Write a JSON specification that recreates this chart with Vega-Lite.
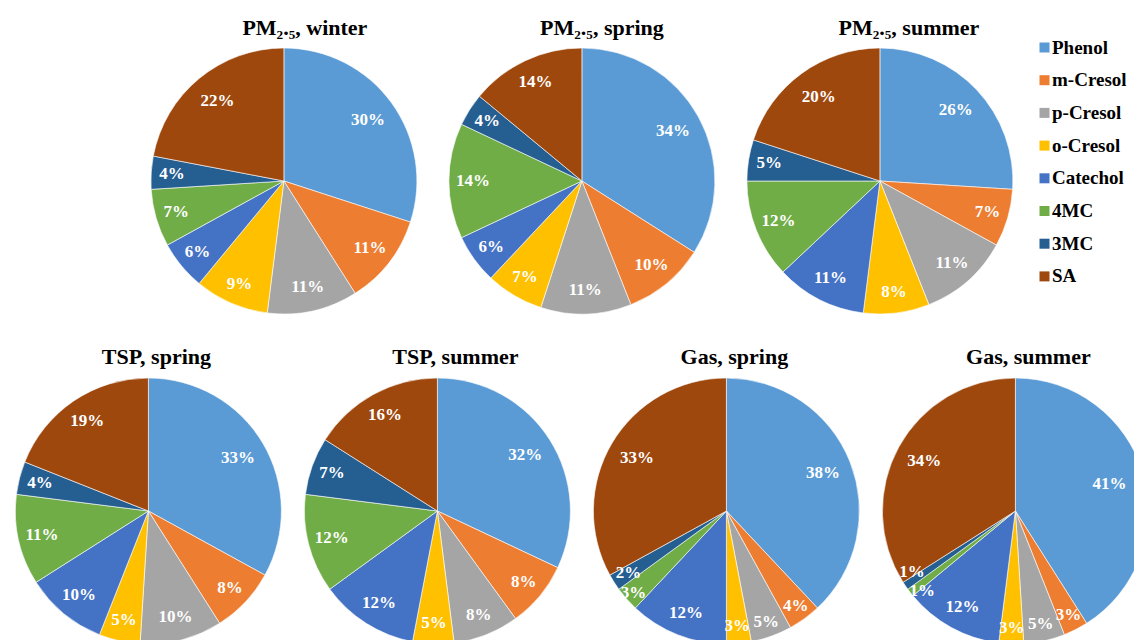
{
  "$schema": "https://vega.github.io/schema/vega-lite/v6.json",
  "padding": {"left": 14, "top": 16, "right": 0, "bottom": 0},
  "background": "#ffffff",
  "datasets": {
    "d": [
      {"panel": "PM2.5, winter", "c": "Phenol", "rank": 1, "v": 0.30},
      {"panel": "PM2.5, winter", "c": "m-Cresol", "rank": 2, "v": 0.11},
      {"panel": "PM2.5, winter", "c": "p-Cresol", "rank": 3, "v": 0.11},
      {"panel": "PM2.5, winter", "c": "o-Cresol", "rank": 4, "v": 0.09},
      {"panel": "PM2.5, winter", "c": "Catechol", "rank": 5, "v": 0.06},
      {"panel": "PM2.5, winter", "c": "4MC", "rank": 6, "v": 0.07},
      {"panel": "PM2.5, winter", "c": "3MC", "rank": 7, "v": 0.04},
      {"panel": "PM2.5, winter", "c": "SA", "rank": 8, "v": 0.22},
      {"panel": "PM2.5, spring", "c": "Phenol", "rank": 1, "v": 0.34},
      {"panel": "PM2.5, spring", "c": "m-Cresol", "rank": 2, "v": 0.10},
      {"panel": "PM2.5, spring", "c": "p-Cresol", "rank": 3, "v": 0.11},
      {"panel": "PM2.5, spring", "c": "o-Cresol", "rank": 4, "v": 0.07},
      {"panel": "PM2.5, spring", "c": "Catechol", "rank": 5, "v": 0.06},
      {"panel": "PM2.5, spring", "c": "4MC", "rank": 6, "v": 0.14},
      {"panel": "PM2.5, spring", "c": "3MC", "rank": 7, "v": 0.04},
      {"panel": "PM2.5, spring", "c": "SA", "rank": 8, "v": 0.14},
      {"panel": "PM2.5, summer", "c": "Phenol", "rank": 1, "v": 0.26},
      {"panel": "PM2.5, summer", "c": "m-Cresol", "rank": 2, "v": 0.07},
      {"panel": "PM2.5, summer", "c": "p-Cresol", "rank": 3, "v": 0.11},
      {"panel": "PM2.5, summer", "c": "o-Cresol", "rank": 4, "v": 0.08},
      {"panel": "PM2.5, summer", "c": "Catechol", "rank": 5, "v": 0.11},
      {"panel": "PM2.5, summer", "c": "4MC", "rank": 6, "v": 0.12},
      {"panel": "PM2.5, summer", "c": "3MC", "rank": 7, "v": 0.05},
      {"panel": "PM2.5, summer", "c": "SA", "rank": 8, "v": 0.20},
      {"panel": "TSP, spring", "c": "Phenol", "rank": 1, "v": 0.33},
      {"panel": "TSP, spring", "c": "m-Cresol", "rank": 2, "v": 0.08},
      {"panel": "TSP, spring", "c": "p-Cresol", "rank": 3, "v": 0.10},
      {"panel": "TSP, spring", "c": "o-Cresol", "rank": 4, "v": 0.05},
      {"panel": "TSP, spring", "c": "Catechol", "rank": 5, "v": 0.10},
      {"panel": "TSP, spring", "c": "4MC", "rank": 6, "v": 0.11},
      {"panel": "TSP, spring", "c": "3MC", "rank": 7, "v": 0.04},
      {"panel": "TSP, spring", "c": "SA", "rank": 8, "v": 0.19},
      {"panel": "TSP, summer", "c": "Phenol", "rank": 1, "v": 0.32},
      {"panel": "TSP, summer", "c": "m-Cresol", "rank": 2, "v": 0.08},
      {"panel": "TSP, summer", "c": "p-Cresol", "rank": 3, "v": 0.08},
      {"panel": "TSP, summer", "c": "o-Cresol", "rank": 4, "v": 0.05},
      {"panel": "TSP, summer", "c": "Catechol", "rank": 5, "v": 0.12},
      {"panel": "TSP, summer", "c": "4MC", "rank": 6, "v": 0.12},
      {"panel": "TSP, summer", "c": "3MC", "rank": 7, "v": 0.07},
      {"panel": "TSP, summer", "c": "SA", "rank": 8, "v": 0.16},
      {"panel": "Gas, spring", "c": "Phenol", "rank": 1, "v": 0.38},
      {"panel": "Gas, spring", "c": "m-Cresol", "rank": 2, "v": 0.04},
      {"panel": "Gas, spring", "c": "p-Cresol", "rank": 3, "v": 0.05},
      {"panel": "Gas, spring", "c": "o-Cresol", "rank": 4, "v": 0.03},
      {"panel": "Gas, spring", "c": "Catechol", "rank": 5, "v": 0.12},
      {"panel": "Gas, spring", "c": "4MC", "rank": 6, "v": 0.03},
      {"panel": "Gas, spring", "c": "3MC", "rank": 7, "v": 0.02},
      {"panel": "Gas, spring", "c": "SA", "rank": 8, "v": 0.33},
      {"panel": "Gas, summer", "c": "Phenol", "rank": 1, "v": 0.41},
      {"panel": "Gas, summer", "c": "m-Cresol", "rank": 2, "v": 0.03},
      {"panel": "Gas, summer", "c": "p-Cresol", "rank": 3, "v": 0.05},
      {"panel": "Gas, summer", "c": "o-Cresol", "rank": 4, "v": 0.03},
      {"panel": "Gas, summer", "c": "Catechol", "rank": 5, "v": 0.12},
      {"panel": "Gas, summer", "c": "4MC", "rank": 6, "v": 0.01},
      {"panel": "Gas, summer", "c": "3MC", "rank": 7, "v": 0.01},
      {"panel": "Gas, summer", "c": "SA", "rank": 8, "v": 0.34}
    ]
  },
  "data": {"name": "d"},
  "vconcat": [
    {
      "hconcat": [
        {
          "width": 266, "height": 266,
          "title": {"text": "PM₂.₅, winter", "dx": 21, "offset": 7},
          "transform": [{"filter": "datum.panel === 'PM2.5, winter'"}],
          "layer": [
            {"mark": {"type": "arc", "radius": 133, "stroke": "#ffffff", "strokeWidth": 0.6},
             "encoding": {"theta": {"field": "v", "type": "quantitative", "stack": true},
                          "color": {"field": "c", "type": "nominal", "scale": {"domain": ["Phenol", "m-Cresol", "p-Cresol", "o-Cresol", "Catechol", "4MC", "3MC", "SA"], "range": ["#5B9BD5", "#ED7D31", "#A5A5A5", "#FFC000", "#4472C4", "#70AD47", "#255E91", "#9E480E"]},
                                    "legend": {"title": null, "orient": "none", "legendX": 1020, "legendY": -10, "symbolType": "square", "symbolSize": 100, "symbolStrokeWidth": 0, "symbolOpacity": 1, "labelFont": "Liberation Serif", "labelFontSize": 19, "labelFontWeight": "bold", "labelColor": "#000000", "rowPadding": 12.7, "labelOffset": -2}},
                          "order": {"field": "rank", "type": "quantitative"}}},
            {"mark": {"type": "text", "radius": {"expr": "datum.v >= 0.2 ? 104 : datum.v >= 0.1 ? 109 : 112"}, "font": "Liberation Serif", "fontWeight": "bold", "fontSize": 17, "color": "#ffffff"},
             "encoding": {"theta": {"field": "v", "type": "quantitative", "stack": true},
                          "detail": {"field": "c", "type": "nominal"},
                          "order": {"field": "rank", "type": "quantitative"},
                          "text": {"field": "v", "type": "quantitative", "format": ".0%"}}}
          ]
        },
        {
          "width": 266, "height": 266,
          "title": {"text": "PM₂.₅, spring", "dx": 20, "offset": 7},
          "transform": [{"filter": "datum.panel === 'PM2.5, spring'"}],
          "layer": [
            {"mark": {"type": "arc", "radius": 133, "stroke": "#ffffff", "strokeWidth": 0.6},
             "encoding": {"theta": {"field": "v", "type": "quantitative", "stack": true},
                          "color": {"field": "c", "type": "nominal"},
                          "order": {"field": "rank", "type": "quantitative"}}},
            {"mark": {"type": "text", "radius": {"expr": "datum.v >= 0.2 ? 104 : datum.v >= 0.1 ? 109 : 112"}, "font": "Liberation Serif", "fontWeight": "bold", "fontSize": 17, "color": "#ffffff"},
             "encoding": {"theta": {"field": "v", "type": "quantitative", "stack": true},
                          "detail": {"field": "c", "type": "nominal"},
                          "order": {"field": "rank", "type": "quantitative"},
                          "text": {"field": "v", "type": "quantitative", "format": ".0%"}}}
          ]
        },
        {
          "width": 266, "height": 266,
          "title": {"text": "PM₂.₅, summer", "dx": 29, "offset": 7},
          "transform": [{"filter": "datum.panel === 'PM2.5, summer'"}],
          "layer": [
            {"mark": {"type": "arc", "radius": 133, "stroke": "#ffffff", "strokeWidth": 0.6},
             "encoding": {"theta": {"field": "v", "type": "quantitative", "stack": true},
                          "color": {"field": "c", "type": "nominal"},
                          "order": {"field": "rank", "type": "quantitative"}}},
            {"mark": {"type": "text", "radius": {"expr": "datum.v >= 0.2 ? 104 : datum.v >= 0.1 ? 109 : 112"}, "font": "Liberation Serif", "fontWeight": "bold", "fontSize": 17, "color": "#ffffff"},
             "encoding": {"theta": {"field": "v", "type": "quantitative", "stack": true},
                          "detail": {"field": "c", "type": "nominal"},
                          "order": {"field": "rank", "type": "quantitative"},
                          "text": {"field": "v", "type": "quantitative", "format": ".0%"}}}
          ]
        }
      ],
      "spacing": 28
    },
    {
      "hconcat": [
        {
          "width": 266, "height": 266,
          "title": {"text": "TSP, spring", "dx": 8, "offset": 8},
          "transform": [{"filter": "datum.panel === 'TSP, spring'"}],
          "layer": [
            {"mark": {"type": "arc", "radius": 133, "stroke": "#ffffff", "strokeWidth": 0.6},
             "encoding": {"theta": {"field": "v", "type": "quantitative", "stack": true},
                          "color": {"field": "c", "type": "nominal"},
                          "order": {"field": "rank", "type": "quantitative"}}},
            {"mark": {"type": "text", "radius": {"expr": "datum.v >= 0.2 ? 104 : datum.v >= 0.1 ? 109 : 112"}, "font": "Liberation Serif", "fontWeight": "bold", "fontSize": 17, "color": "#ffffff"},
             "encoding": {"theta": {"field": "v", "type": "quantitative", "stack": true},
                          "detail": {"field": "c", "type": "nominal"},
                          "order": {"field": "rank", "type": "quantitative"},
                          "text": {"field": "v", "type": "quantitative", "format": ".0%"}}}
          ]
        },
        {
          "width": 266, "height": 266,
          "title": {"text": "TSP, summer", "dx": 18, "offset": 8},
          "transform": [{"filter": "datum.panel === 'TSP, summer'"}],
          "layer": [
            {"mark": {"type": "arc", "radius": 133, "stroke": "#ffffff", "strokeWidth": 0.6},
             "encoding": {"theta": {"field": "v", "type": "quantitative", "stack": true},
                          "color": {"field": "c", "type": "nominal"},
                          "order": {"field": "rank", "type": "quantitative"}}},
            {"mark": {"type": "text", "radius": {"expr": "datum.v >= 0.2 ? 104 : datum.v >= 0.1 ? 109 : 112"}, "font": "Liberation Serif", "fontWeight": "bold", "fontSize": 17, "color": "#ffffff"},
             "encoding": {"theta": {"field": "v", "type": "quantitative", "stack": true},
                          "detail": {"field": "c", "type": "nominal"},
                          "order": {"field": "rank", "type": "quantitative"},
                          "text": {"field": "v", "type": "quantitative", "format": ".0%"}}}
          ]
        },
        {
          "width": 266, "height": 266,
          "title": {"text": "Gas, spring", "dx": 8, "offset": 8},
          "transform": [{"filter": "datum.panel === 'Gas, spring'"}],
          "layer": [
            {"mark": {"type": "arc", "radius": 133, "stroke": "#ffffff", "strokeWidth": 0.6},
             "encoding": {"theta": {"field": "v", "type": "quantitative", "stack": true},
                          "color": {"field": "c", "type": "nominal"},
                          "order": {"field": "rank", "type": "quantitative"}}},
            {"mark": {"type": "text", "radius": {"expr": "datum.c == '4MC' && datum.v < 0.04 ? 124 : datum.v >= 0.2 ? 104 : datum.v >= 0.1 ? 110 : datum.v >= 0.04 ? 118 : 116"}, "font": "Liberation Serif", "fontWeight": "bold", "fontSize": 17, "color": "#ffffff"},
             "encoding": {"theta": {"field": "v", "type": "quantitative", "stack": true},
                          "detail": {"field": "c", "type": "nominal"},
                          "order": {"field": "rank", "type": "quantitative"},
                          "text": {"field": "v", "type": "quantitative", "format": ".0%"}}}
          ]
        },
        {
          "width": 266, "height": 266,
          "title": {"text": "Gas, summer", "dx": 13, "offset": 8},
          "transform": [{"filter": "datum.panel === 'Gas, summer'"}],
          "layer": [
            {"mark": {"type": "arc", "radius": 133, "stroke": "#ffffff", "strokeWidth": 0.6},
             "encoding": {"theta": {"field": "v", "type": "quantitative", "stack": true},
                          "color": {"field": "c", "type": "nominal"},
                          "order": {"field": "rank", "type": "quantitative"}}},
            {"mark": {"type": "text",
                      "radius": {"expr": "datum.c == '3MC' && datum.v < 0.02 ? 125 : datum.c == '4MC' && datum.v < 0.02 ? 118 : datum.v >= 0.4 ? 98 : datum.v >= 0.2 ? 104 : datum.v >= 0.1 ? 110 : datum.v >= 0.04 ? 116 : 117"},
                      "baseline": {"expr": "datum.c == '3MC' && datum.v < 0.02 ? 'bottom' : datum.c == '4MC' && datum.v < 0.02 ? 'top' : 'middle'"},
                      "font": "Liberation Serif", "fontWeight": "bold", "fontSize": 17, "color": "#ffffff"},
             "encoding": {"theta": {"field": "v", "type": "quantitative", "stack": true},
                          "detail": {"field": "c", "type": "nominal"},
                          "order": {"field": "rank", "type": "quantitative"},
                          "text": {"field": "v", "type": "quantitative", "format": ".0%"}}}
          ]
        }
      ],
      "spacing": 19
    }
  ],
  "spacing": 29,
  "center": true,
  "config": {
    "view": {"stroke": null},
    "title": {"font": "Liberation Serif", "fontSize": 22, "fontWeight": "bold", "color": "#000000"}
  }
}
